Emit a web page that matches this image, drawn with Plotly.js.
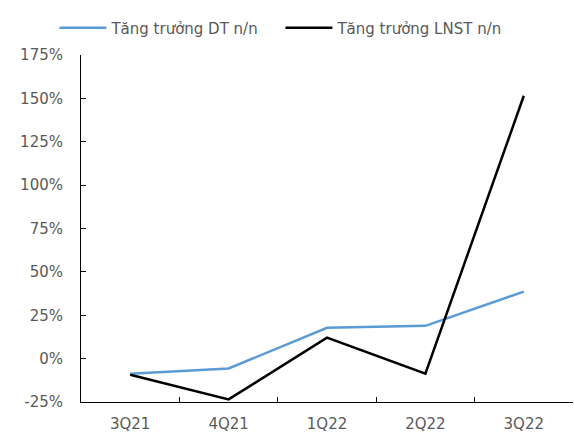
<!DOCTYPE html>
<html><head><meta charset="utf-8">
<script src="https://cdn.plot.ly/plotly-3.0.1.min.js"></script>
<style>html,body{margin:0;padding:0;background:#fff}</style>
</head><body>
<div id="chart" style="width:574px;height:437px"></div>
<script>
const categories = ["3Q21", "4Q21", "1Q22", "2Q22", "3Q22"];
const revenueGrowth = [-8.7, -5.7, 17.8, 18.9, 38.6];
const profitGrowth = [-9.3, -23.5, 12.1, -8.7, 151.5];
const yTicks = [-25, 0, 25, 50, 75, 100, 125, 150, 175];
const yTickLabels = yTicks.map(v => v + "%");

const font = {family: "DejaVu Sans, Verdana, sans-serif", size: 15, color: "#595959"};
const traces = [
  {x: categories, y: revenueGrowth, name: "Tăng trưởng DT n/n", type: "scatter", mode: "lines",
   line: {color: "#5B9BD5", width: 2.5}},
  {x: categories, y: profitGrowth, name: "Tăng trưởng LNST n/n", type: "scatter", mode: "lines",
   line: {color: "#000000", width: 2.5}}
];
const layout = {
  width: 574, height: 437,
  margin: {l: 81, r: 1, t: 55, b: 35},
  paper_bgcolor: "#fff", plot_bgcolor: "#fff",
  font: font,
  showlegend: true,
  legend: {orientation: "h", x: -0.054, xanchor: "left", y: 1.03, yanchor: "bottom",
           font: font, traceorder: "normal", itemwidth: 47, entrywidth: 164},
  xaxis: {type: "category", showgrid: false, zeroline: false, showline: true,
          linecolor: "#000", linewidth: 1, ticks: "inside", ticklen: 5, tickcolor: "#000",
          tickson: "boundaries", range: [-0.5, 4.5], tickfont: font, ticklabelstandoff: 8},
  yaxis: {range: [-25, 175], tickvals: yTicks, ticktext: yTickLabels, showgrid: false,
          zeroline: false, showline: true, linecolor: "#000", linewidth: 1,
          ticks: "inside", ticklen: 5, tickcolor: "#000", tickfont: font, ticklabelstandoff: 14}
};
Plotly.newPlot("chart", traces, layout, {displayModeBar: false, staticPlot: true});
</script>
</body></html>
